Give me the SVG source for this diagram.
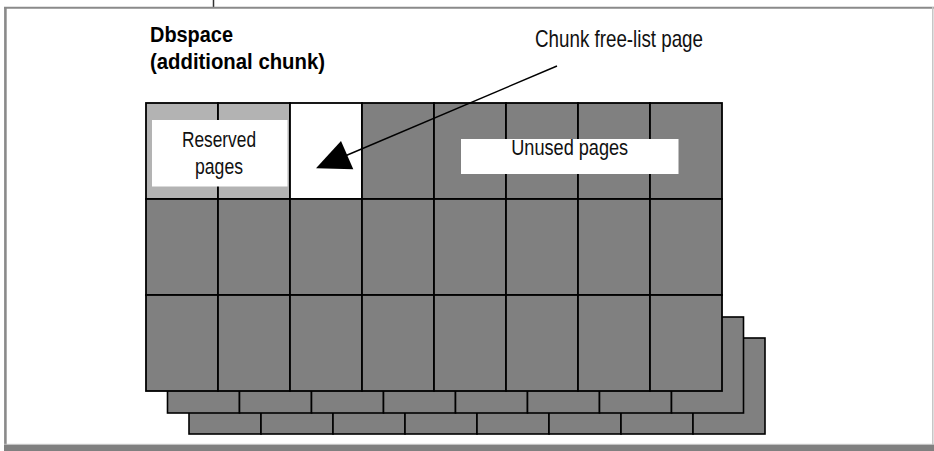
<svg xmlns="http://www.w3.org/2000/svg" width="934" height="451" viewBox="0 0 934 451">
  <style>
    .page { fill: #808080; stroke: #000; stroke-width: 1.8; }
    .back { fill: #808080; stroke: #000; stroke-width: 1.6; }
    .rsv { fill: #b3b3b3; stroke: #000; stroke-width: 1.8; }
    .free { fill: #ffffff; stroke: #000; stroke-width: 1.8; }
    .lbl { font-family: "Liberation Sans", Arial, sans-serif; fill: #111; }
    .title { font-family: "Liberation Sans", Arial, sans-serif; font-weight: bold; fill: #000; font-size: 22px; }
  </style>
  <defs>
    <!-- one row of eight pages, reused for the stacked chunks behind -->
    <g id="pageRow">
      <rect class="back" x="0" y="0" width="72" height="96"/>
      <rect class="back" x="72" y="0" width="72" height="96"/>
      <rect class="back" x="144" y="0" width="72" height="96"/>
      <rect class="back" x="216" y="0" width="72" height="96"/>
      <rect class="back" x="288" y="0" width="72" height="96"/>
      <rect class="back" x="360" y="0" width="72" height="96"/>
      <rect class="back" x="432" y="0" width="72" height="96"/>
      <rect class="back" x="504" y="0" width="72" height="96"/>
    </g>
  </defs>

  <!-- page frame -->
  <rect x="0" y="0" width="934" height="451" fill="#ffffff"/>
  <line x1="213.5" y1="0" x2="213.5" y2="7" stroke="#333" stroke-width="1.5"/>
  <line x1="4" y1="7.8" x2="934" y2="7.8" stroke="#8a8a8a" stroke-width="2"/>
  <line x1="5.4" y1="7" x2="5.4" y2="451" stroke="#8a8a8a" stroke-width="2.6"/>
  <line x1="932.8" y1="7" x2="932.8" y2="445" stroke="#c4c4c4" stroke-width="1.5"/>
  <line x1="4" y1="444.3" x2="934" y2="444.3" stroke="#c8c8c8" stroke-width="1"/>
  <rect x="4" y="444.8" width="930" height="6.2" fill="#808080"/>

  <!-- chunks stacked behind -->
  <g id="chunk3">
    <use href="#pageRow" x="189" y="338"/>
  </g>
  <g id="chunk2">
    <use href="#pageRow" x="167.5" y="317"/>
  </g>

  <!-- main chunk: 8 x 3 pages -->
  <g id="chunk1">
    <rect class="rsv" x="146" y="103" width="72" height="96"/>
    <rect class="rsv" x="218" y="103" width="72" height="96"/>
    <rect class="free" x="290" y="103" width="72" height="96"/>
    <rect class="page" x="362" y="103" width="72" height="96"/>
    <rect class="page" x="434" y="103" width="72" height="96"/>
    <rect class="page" x="506" y="103" width="72" height="96"/>
    <rect class="page" x="578" y="103" width="72" height="96"/>
    <rect class="page" x="650" y="103" width="72" height="96"/>

    <rect class="page" x="146" y="199" width="72" height="96"/>
    <rect class="page" x="218" y="199" width="72" height="96"/>
    <rect class="page" x="290" y="199" width="72" height="96"/>
    <rect class="page" x="362" y="199" width="72" height="96"/>
    <rect class="page" x="434" y="199" width="72" height="96"/>
    <rect class="page" x="506" y="199" width="72" height="96"/>
    <rect class="page" x="578" y="199" width="72" height="96"/>
    <rect class="page" x="650" y="199" width="72" height="96"/>

    <rect class="page" x="146" y="295" width="72" height="96"/>
    <rect class="page" x="218" y="295" width="72" height="96"/>
    <rect class="page" x="290" y="295" width="72" height="96"/>
    <rect class="page" x="362" y="295" width="72" height="96"/>
    <rect class="page" x="434" y="295" width="72" height="96"/>
    <rect class="page" x="506" y="295" width="72" height="96"/>
    <rect class="page" x="578" y="295" width="72" height="96"/>
    <rect class="page" x="650" y="295" width="72" height="96"/>
  </g>

  <!-- labels on the pages -->
  <g id="reserved">
    <rect x="152" y="120" width="135.5" height="66.5" fill="#ffffff"/>
    <text class="lbl" x="219" y="147" font-size="21.5" text-anchor="middle" textLength="74" lengthAdjust="spacingAndGlyphs">Reserved</text>
    <text class="lbl" x="219" y="173.8" font-size="21.5" text-anchor="middle" textLength="48" lengthAdjust="spacingAndGlyphs">pages</text>
  </g>
  <g id="unused">
    <rect x="461" y="139" width="217.5" height="35" fill="#ffffff"/>
    <text class="lbl" x="569.7" y="155.3" font-size="21.5" text-anchor="middle" textLength="117" lengthAdjust="spacingAndGlyphs">Unused pages</text>
  </g>

  <!-- titles -->
  <g id="dbspace">
    <text class="title" x="150" y="42.3" textLength="83" lengthAdjust="spacingAndGlyphs">Dbspace</text>
    <text class="title" x="150" y="69.3" textLength="175" lengthAdjust="spacingAndGlyphs">(additional chunk)</text>
  </g>
  <g id="freelist">
    <text class="lbl" x="535" y="46.7" font-size="24" textLength="168" lengthAdjust="spacingAndGlyphs">Chunk free-list page</text>
  </g>

  <!-- pointer to the free-list page -->
  <g id="connectors">
    <line x1="557" y1="66" x2="345" y2="156" stroke="#000" stroke-width="1.5"/>
    <polygon points="316,168.3 341,141 353.3,169.3" fill="#000"/>
  </g>
</svg>
